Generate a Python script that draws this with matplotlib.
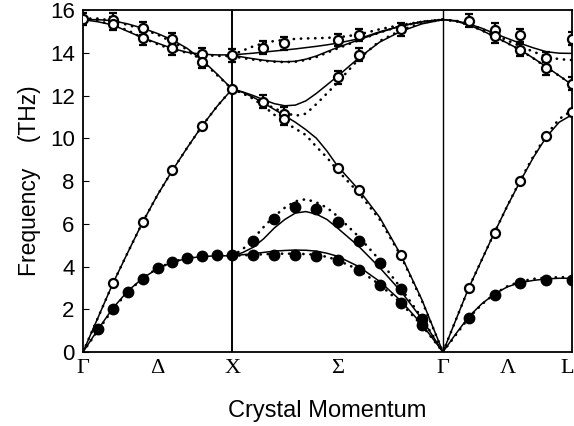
import numpy as np
import matplotlib
matplotlib.use('Agg')
import matplotlib.pyplot as plt

plt.rcParams['font.family'] = ['Liberation Sans', 'DejaVu Sans']

# path segments: Gamma-X, X-Sigma-Gamma, Gamma-L (reduced q along each)
seg_start = [0.0, 1.0, 1.0 + np.sqrt(2)]
seg_len = [1.0, np.sqrt(2), np.sqrt(3) / 2]

# ---- model curves, solid and dotted ----
q1 = [0, 0.1, 0.2, 0.3, 0.4, 0.5, 0.6, 0.7, 0.8, 0.9, 1.0]
s1_TA = [0, 1.05, 2.05, 2.85, 3.45, 3.9, 4.2, 4.38, 4.47, 4.5, 4.5]
s1_LA = [0, 1.6, 3.2, 4.65, 6.07, 7.35, 8.5, 9.57, 10.59, 11.5, 12.3]
s1_LO = [15.55, 15.55, 15.5, 15.35, 15.15, 14.9, 14.6, 14.2, 13.65, 13.0, 12.3]
s1_TO = [15.55, 15.45, 15.3, 15.0, 14.7, 14.45, 14.2, 14.02, 13.93, 13.9, 13.9]
d1_TA = [0, 1.0, 2.0, 2.8, 3.45, 3.92, 4.22, 4.4, 4.48, 4.5, 4.5]
d1_LA = [0, 1.6, 3.2, 4.65, 6.07, 7.35, 8.5, 9.57, 10.59, 11.5, 12.3]
d1_LO = [15.6, 15.6, 15.5, 15.3, 15.1, 14.85, 14.5, 14.15, 13.6, 12.95, 12.3]
d1_TO = [15.6, 15.5, 15.3, 15.05, 14.7, 14.4, 14.15, 14.0, 13.9, 13.85, 13.85]

q2 = [0, 0.05, 0.1, 0.15, 0.2, 0.25, 0.3, 0.35, 0.4, 0.45, 0.5, 0.6, 0.7, 0.8, 0.9, 1.0]
s2_TA1 = [4.5, 4.55, 4.6, 4.66, 4.72, 4.75, 4.77, 4.76, 4.72, 4.62, 4.48, 4.0, 3.3, 2.4, 1.3, 0]
s2_TA2 = [4.5, 4.65, 4.9, 5.3, 5.8, 6.2, 6.5, 6.57, 6.45, 6.2, 5.8, 4.95, 3.95, 2.85, 1.55, 0]
s2_LA = [12.3, 12.15, 11.92, 11.65, 11.35, 11.05, 10.75, 10.4, 10.0, 9.4, 8.7, 7.6, 6.3, 4.55, 2.45, 0]
s2_LO = [12.3, 12.17, 12.0, 11.8, 11.62, 11.52, 11.55, 11.75, 12.1, 12.5, 12.9, 13.75, 14.5, 15.0, 15.35, 15.55]
s2_TO1 = [13.9, 13.94, 13.98, 14.03, 14.08, 14.13, 14.18, 14.24, 14.3, 14.37, 14.45, 14.65, 14.98, 15.25, 15.45, 15.55]
s2_TO2 = [13.9, 13.8, 13.72, 13.65, 13.6, 13.58, 13.6, 13.7, 13.85, 14.05, 14.25, 14.6, 14.95, 15.25, 15.45, 15.55]
d2_TA1 = [4.5, 4.52, 4.55, 4.57, 4.6, 4.6, 4.6, 4.58, 4.55, 4.45, 4.3, 3.85, 3.15, 2.3, 1.25, 0]
d2_TA2 = [4.5, 4.8, 5.3, 5.85, 6.35, 6.75, 7.05, 7.15, 7.0, 6.75, 6.35, 5.4, 4.3, 3.0, 1.6, 0]
d2_LA = [12.3, 12.1, 11.85, 11.5, 11.1, 10.75, 10.45, 10.15, 9.6, 9.1, 8.5, 7.45, 6.2, 4.5, 2.4, 0]
d2_LO = [12.3, 12.12, 11.9, 11.65, 11.4, 11.2, 11.05, 11.15, 11.6, 12.1, 12.6, 13.7, 14.55, 15.05, 15.4, 15.55]
d2_TO1 = [13.9, 14.1, 14.3, 14.45, 14.55, 14.6, 14.65, 14.67, 14.68, 14.7, 14.72, 14.85, 15.1, 15.3, 15.45, 15.55]
d2_TO2 = [13.85, 13.75, 13.68, 13.62, 13.58, 13.56, 13.58, 13.66, 13.8, 14.0, 14.2, 14.58, 14.95, 15.25, 15.45, 15.55]

q3 = [0, 0.1, 0.2, 0.3, 0.4, 0.5, 0.6, 0.7, 0.8, 0.9, 1.0]
s3_TA = [0, 0.85, 1.65, 2.25, 2.72, 3.05, 3.25, 3.35, 3.42, 3.45, 3.45]
s3_LA = [0, 1.5, 3.0, 4.3, 5.6, 6.85, 8.0, 9.1, 10.05, 10.75, 11.1]
s3_LO = [15.55, 15.48, 15.3, 15.05, 14.75, 14.45, 14.13, 13.75, 13.35, 12.93, 12.5]
s3_TO = [15.55, 15.5, 15.35, 15.15, 14.9, 14.67, 14.44, 14.23, 14.05, 13.98, 13.97]
d3_TA = [0, 0.8, 1.6, 2.22, 2.72, 3.08, 3.3, 3.42, 3.48, 3.5, 3.5]
d3_LA = [0, 1.5, 3.0, 4.3, 5.6, 6.85, 8.05, 9.15, 10.15, 10.9, 11.3]
d3_LO = [15.55, 15.48, 15.3, 15.05, 14.75, 14.45, 14.12, 13.74, 13.33, 12.92, 12.52]
d3_TO = [15.55, 15.5, 15.35, 15.12, 14.85, 14.58, 14.3, 14.05, 13.82, 13.7, 13.66]

# ---- measured points ----
# filled circles (transverse acoustic)
p1_filled_q = [0.1, 0.2, 0.3, 0.4, 0.5, 0.6, 0.7, 0.8, 0.9, 1.0]
p1_filled_f = [1.06, 2.03, 2.82, 3.43, 3.91, 4.23, 4.38, 4.49, 4.52, 4.52]
p2_filled_q = [0.1, 0.2, 0.3, 0.4, 0.5, 0.6, 0.7, 0.8, 0.9,
               0.1, 0.2, 0.3, 0.4, 0.5, 0.6, 0.7, 0.8, 0.9]
p2_filled_f = [5.19, 6.21, 6.8, 6.68, 6.08, 5.19, 4.15, 2.93, 1.53,
               4.54, 4.54, 4.56, 4.47, 4.29, 3.85, 3.15, 2.3, 1.24]
p3_filled_q = [0.2, 0.4, 0.6, 0.8, 1.0]
p3_filled_f = [1.58, 2.67, 3.21, 3.37, 3.37]

# open circles without error bars
p1_open_q = [0.2, 0.4, 0.6, 0.8, 1.0]
p1_open_f = [3.21, 6.07, 8.51, 10.59, 12.29]
p2_open_q = [0.5, 0.6, 0.8]
p2_open_f = [8.6, 7.6, 4.54]
p3_open_q = [0.2, 0.4, 0.6, 0.8, 1.0]
p3_open_f = [2.98, 5.58, 8.02, 10.1, 11.24]

# open circles with error bars (optical)
p1_err_q = [0, 0.2, 0.2, 0.4, 0.4, 0.6, 0.6, 0.8, 0.8, 1.0]
p1_err_f = [15.58, 15.55, 15.35, 15.14, 14.67, 14.63, 14.21, 13.93, 13.58, 13.89]
p2_err_q = [0.145, 0.245, 0.245, 0.145, 0.245, 0.5, 0.5, 0.6, 0.6, 0.8]
p2_err_f = [11.71, 11.15, 10.9, 14.24, 14.44, 14.6, 12.85, 14.83, 13.9, 15.1]
p3_err_q = [0.2, 0.4, 0.4, 0.6, 0.6, 0.8, 0.8, 1.0, 1.0]
p3_err_f = [15.5, 15.08, 14.77, 14.82, 14.13, 13.74, 13.27, 14.66, 12.55]
err_size = 0.3

tick_labels = ['\u0393', '\u0394', 'X', '\u03a3', '\u0393', '\u039b', 'L']


def xs(seg, q):
    return seg_start[seg] + np.array(q) * seg_len[seg]


fig = plt.figure(figsize=(5.74, 4.26), dpi=100)
ax = fig.add_axes([0.1446, 0.1737, 0.852, 0.8028])

solid = [(q1, [s1_TA, s1_LA, s1_LO, s1_TO]),
         (q2, [s2_TA1, s2_TA2, s2_LA, s2_LO, s2_TO1, s2_TO2]),
         (q3, [s3_TA, s3_LA, s3_LO, s3_TO])]
dotted = [(q1, [d1_TA, d1_LA, d1_LO, d1_TO]),
          (q2, [d2_TA1, d2_TA2, d2_LA, d2_LO, d2_TO1, d2_TO2]),
          (q3, [d3_TA, d3_LA, d3_LO, d3_TO])]

for seg, (q, branches) in enumerate(solid):
    for b in branches:
        ax.plot(xs(seg, q), b, color='black', lw=1.1, zorder=2)
for seg, (q, branches) in enumerate(dotted):
    for b in branches:
        ax.plot(xs(seg, q), b, color='black', lw=1.9,
                linestyle=(0, (0.1, 2.6)), dash_capstyle='round', zorder=2)

filled = [(p1_filled_q, p1_filled_f), (p2_filled_q, p2_filled_f), (p3_filled_q, p3_filled_f)]
opened = [(p1_open_q, p1_open_f), (p2_open_q, p2_open_f), (p3_open_q, p3_open_f)]
witherr = [(p1_err_q, p1_err_f), (p2_err_q, p2_err_f), (p3_err_q, p3_err_f)]

for seg, (q, f) in enumerate(filled):
    ax.plot(xs(seg, q), f, 'o', color='black', ms=7.5, zorder=4)
for seg, (q, f) in enumerate(opened):
    ax.plot(xs(seg, q), f, 'o', mfc='white', mec='black', mew=1.6, ms=6.5, zorder=4)
for seg, (q, f) in enumerate(witherr):
    ax.errorbar(xs(seg, q), f, yerr=err_size, fmt='o', mfc='white', mec='black',
                mew=1.6, ms=6.5, ecolor='black', elinewidth=1.6, capsize=3,
                capthick=1.6, zorder=4)

ax.axvline(seg_start[1], color='black', lw=1.4, zorder=1)
ax.axvline(seg_start[2], color='black', lw=1.0, zorder=1)

x_end = seg_start[2] + seg_len[2]
ax.set_xlim(0, x_end)
ax.set_ylim(0, 16)
ax.set_yticks(range(0, 17, 2))
ax.tick_params(axis='y', direction='in', length=4, labelsize=16, pad=6)
tick_pos = [0, 0.5, 1, 1 + np.sqrt(2) / 2, seg_start[2], seg_start[2] + seg_len[2] / 2, x_end - 0.03]
ax.set_xticks(tick_pos)
ax.set_xticklabels(tick_labels, fontfamily='Liberation Serif', fontsize=16)
ax.tick_params(axis='x', length=0, pad=5)
for s in ax.spines.values():
    s.set_linewidth(1.3)

ax.set_ylabel('Frequency    (THz)', fontsize=16.5, labelpad=6)
ax.set_xlabel('Crystal Momentum', fontsize=17, labelpad=16)

fig.savefig('out.png', dpi=100)
